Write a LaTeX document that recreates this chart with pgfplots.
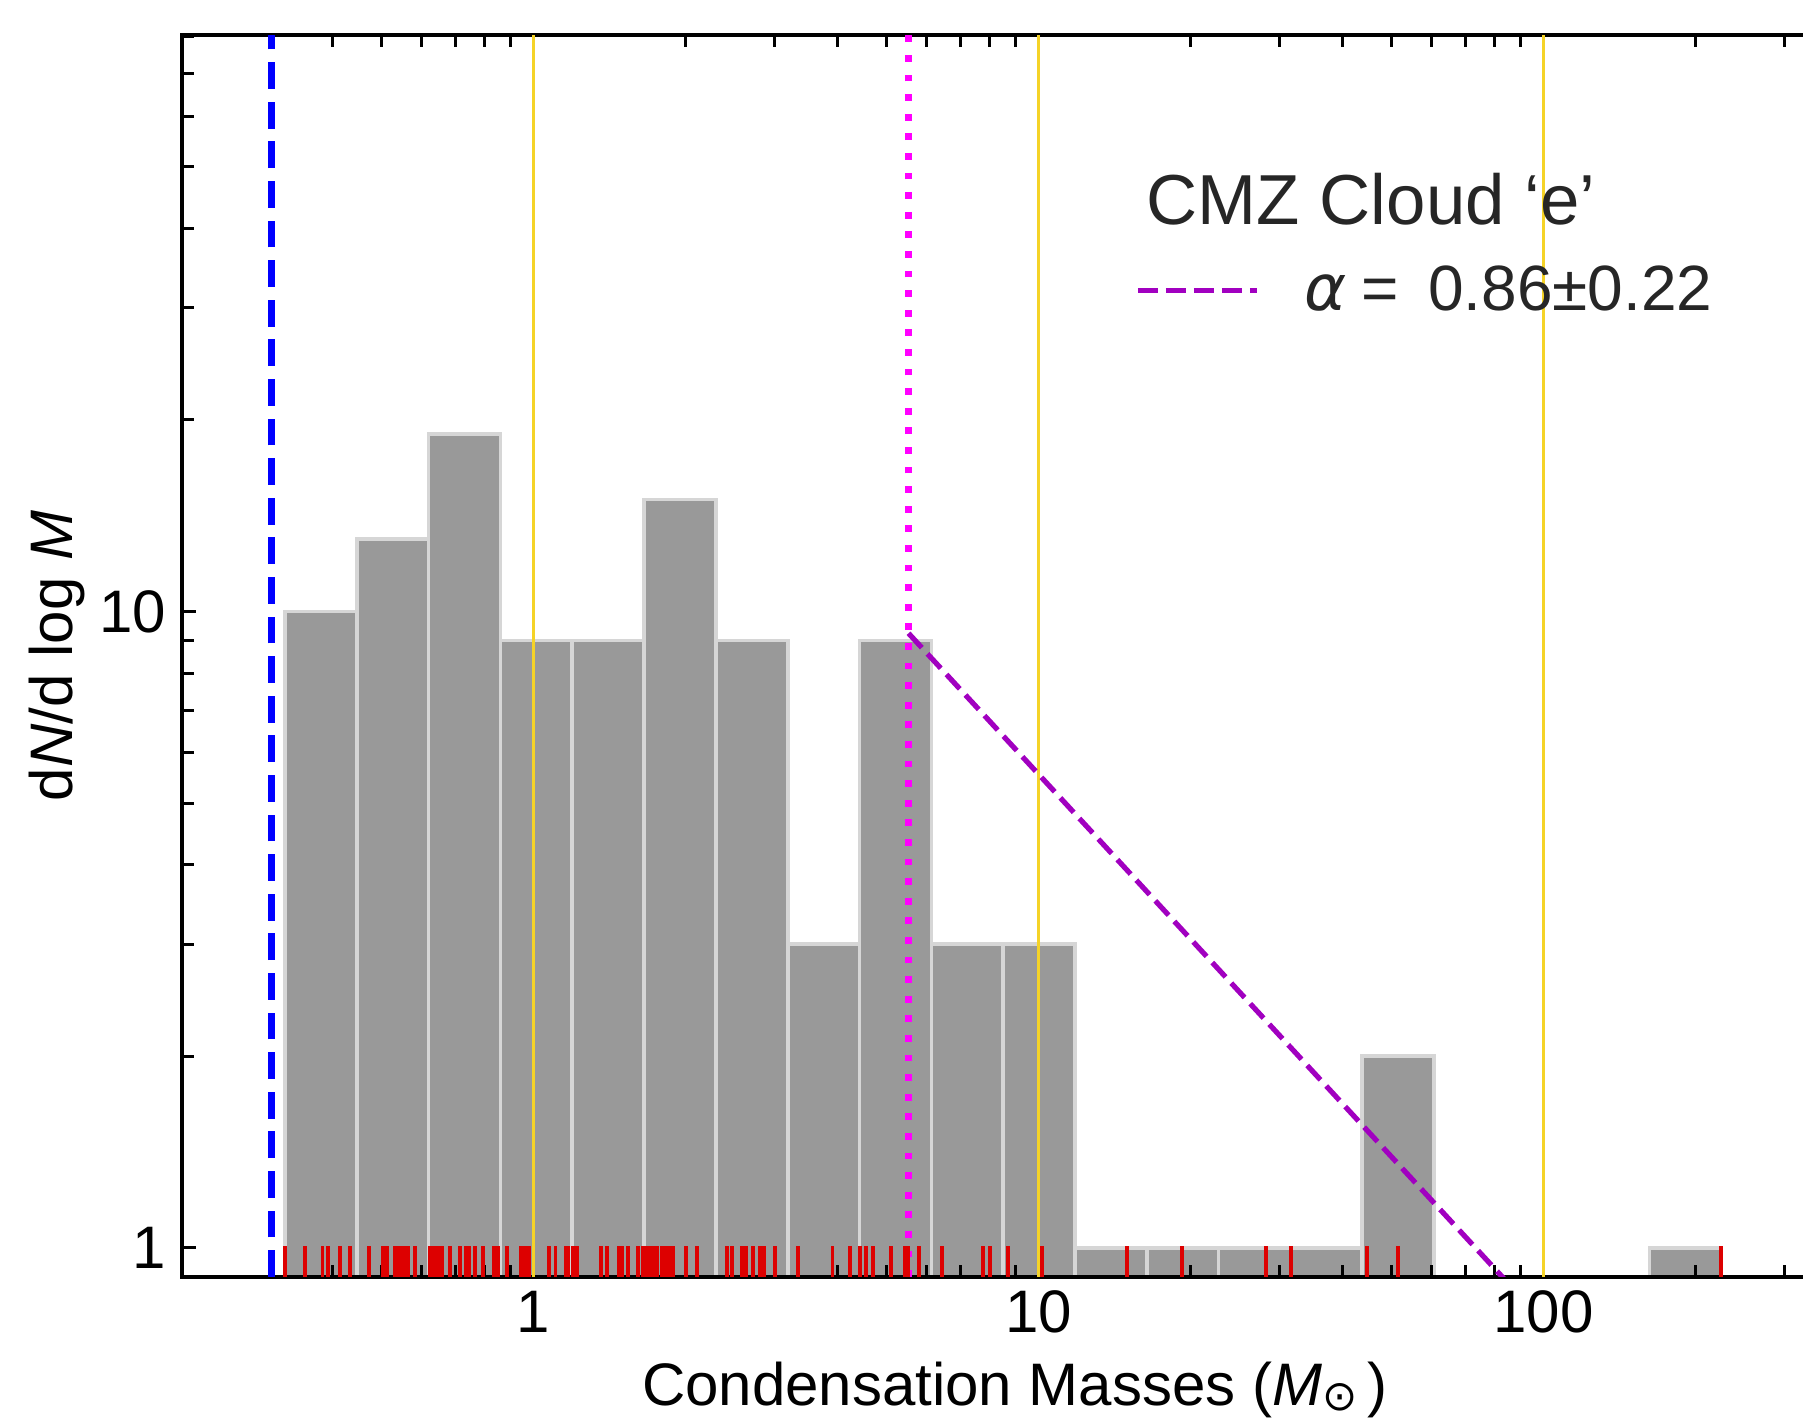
\documentclass[border=0pt]{standalone}
\usepackage{fontspec}
\setmainfont{Liberation Sans}
\newfontfamily\dejavu{DejaVu Sans}
\usepackage{pgfplots}
\pgfplotsset{compat=1.18}
\definecolor{barfill}{HTML}{999999}
\definecolor{baredge}{HTML}{D6D6D6}
\definecolor{rugred}{HTML}{DD0000}
\definecolor{goldline}{HTML}{F5D327}
\definecolor{fitpurple}{HTML}{A100C0}
\definecolor{magline}{HTML}{FF00FF}
\definecolor{txt}{HTML}{262626}
\begin{document}
\begin{tikzpicture}
\begin{axis}[
  set layers,
  scale only axis, width=416.4pt, height=310.5pt,
  xmode=log, ymode=log,
  xmin=0.2015, xmax=400, ymin=0.9, ymax=80.5,
  log origin y=infty,
  xtick={1,10,100}, xticklabels={1,10,100},
  minor xtick={0.3,0.4,0.5,0.6,0.7,0.8,0.9,2,3,4,5,6,7,8,9,20,30,40,50,60,70,80,90,200,300},
  ytick={1,10}, yticklabels={1,10},
  minor ytick={2,3,4,5,6,7,8,9,20,30,40,50,60,70,80},
  tick align=inside,
  major tick length=3.5pt, minor tick length=3pt,
  tick style={line width=0.75pt, black},
  axis line style={line width=0.8pt},
  tick label style={font=\fontsize{15}{18}\selectfont},
  xticklabel style={inner sep=3.25pt},
  yticklabel style={inner sep=3.75pt},
  label style={font=\fontsize{15}{18}\selectfont},
  xlabel={Condensation Masses (\textit{M}\raisebox{-1.25pt}{\fontsize{10.5}{12}\selectfont\dejavu ⊙}\,)},
  ylabel={d\textit{N}/d log \textit{M}},
  xlabel style={at={(axis description cs:0.5,-0.1031)}, anchor=base},
  ylabel style={at={(axis description cs:-0.0655,0.5)}, anchor=base},
  legend image code/.code={\draw[#1] (0pt,0pt) -- (29.75pt,0pt);},
  legend style={draw=none, fill=none, at={(rel axis cs:0.5719,0.7940)}, anchor=west,
    inner sep=0pt, font=\fontsize{16}{19}\selectfont, text=txt,
    nodes={inner sep=0pt},
    /tikz/every odd column/.append style={column sep=11.35pt}},
]
% histogram (counts per logarithmic bin)
\addplot[ybar interval, fill=barfill, draw=baredge, line width=0.9pt, on layer=axis background, forget plot]
  coordinates {(0.32235,10) (0.44719,13) (0.62040,19) (0.86069,9) (1.19404,9) (1.6565,15)
  (2.2981,9) (3.1882,3) (4.4230,9) (6.1361,3) (8.5125,3) (11.810,1) (16.384,1) (22.729,1)
  (31.534,1) (43.746,2) (60.691,2)};
\addplot[ybar interval, fill=barfill, draw=baredge, line width=0.9pt, on layer=axis background, forget plot]
  coordinates {(162.05,1) (224.81,1)};
% rug of individual condensation masses
\addplot[only marks, mark=|, mark size=3.8pt, color=rugred, mark options={line width=0.95pt}, forget plot]
  coordinates {
  (0.3224,0.952) (0.3527,0.952) (0.3530,0.952) (0.3822,0.952) (0.3825,0.952) (0.3922,0.952)
  (0.4130,0.952) (0.4135,0.952) (0.4330,0.952) (0.4335,0.952)
  (0.4729,0.952) (0.4735,0.952) (0.5033,0.952) (0.5040,0.952) (0.5133,0.952) (0.5324,0.952)
  (0.5330,0.952) (0.5409,0.952) (0.5497,0.952) (0.5585,0.952) (0.5661,0.952) (0.5833,0.952)
  (0.5840,0.952)
  (0.6245,0.952) (0.6250,0.952) (0.6359,0.952) (0.6365,0.952) (0.6476,0.952) (0.6480,0.952)
  (0.6595,0.952) (0.6600,0.952) (0.6841,0.952) (0.7160,0.952) (0.7165,0.952) (0.7342,0.952)
  (0.7459,0.952) (0.7465,0.952) (0.7667,0.952) (0.7961,0.952) (0.8359,0.952) (0.8365,0.952)
  (0.8513,0.952)
  (0.8871,0.952) (0.9455,0.952) (0.9460,0.952) (0.9629,0.952) (0.9806,0.952) (1.0742,0.952)
  (1.1065,0.952) (1.1581,0.952) (1.1714,0.952)
  (1.1984,0.952) (1.2205,0.952) (1.3616,0.952) (1.3974,0.952) (1.4780,0.952) (1.5017,0.952)
  (1.5378,0.952) (1.6095,0.952) (1.6451,0.952)
  (1.6716,0.952) (1.6720,0.952) (1.6946,0.952) (1.7257,0.952) (1.7260,0.952) (1.7575,0.952)
  (1.7580,0.952) (1.7981,0.952) (1.8311,0.952) (1.8315,0.952) (1.8564,0.952) (1.8905,0.952)
  (1.8910,0.952) (2.0059,0.952) (2.1091,0.952)
  (2.4182,0.952) (2.4740,0.952) (2.5893,0.952) (2.5900,0.952) (2.6370,0.952) (2.7225,0.952)
  (2.8108,0.952) (2.8625,0.952) (3.0056,0.952)
  (3.3423,0.952) (3.9116,0.952) (4.2307,0.952)
  (4.4341,0.952) (4.5530,0.952) (4.7048,0.952) (5.1141,0.952) (5.4313,0.952) (5.4320,0.952)
  (5.5187,0.952) (5.5200,0.952) (5.8101,0.952)
  (6.4439,0.952) (7.7577,0.952) (8.0311,0.952)
  (8.6941,0.952) (8.7000,0.952) (10.152,0.952)
  (14.956,0.952) (19.219,0.952) (28.223,0.952) (31.63,0.952) (44.79,0.952) (51.45,0.952)
  (224.8,0.952)};
% reference lines
\addplot[goldline, line width=0.85pt, forget plot] coordinates {(1,0.9) (1,80.5)};
\addplot[goldline, line width=0.85pt, forget plot] coordinates {(10,0.9) (10,80.5)};
\addplot[goldline, line width=0.85pt, forget plot] coordinates {(100,0.9) (100,80.5)};
\addplot[blue, line width=1.75pt, dash pattern=on 6.7pt off 3.2pt, forget plot] coordinates {(0.303,0.9) (0.303,80.5)};
\addplot[magline, line width=1.7pt, dash pattern=on 1.7pt off 3.2pt, forget plot] coordinates {(5.53,0.9) (5.53,80.5)};
% power-law fit
\addplot[fitpurple, line width=1.3pt, dash pattern=on 4.9pt off 2.1pt] coordinates {(5.53,9.24) (100,0.766)};
\addlegendentry{{\dejavu\itshape α}\hspace{3.6pt}=\hspace{7.35pt}0.86±0.22}
\node[anchor=base west, inner sep=0pt, font=\fontsize{17.7}{21}\selectfont, text=txt]
  at (rel axis cs:0.5788,0.8478) {CMZ Cloud ‘e’};
\end{axis}
\pgfresetboundingbox
\useasboundingbox (-45.5pt,-35.5pt) rectangle (405.25pt,319.25pt);
\end{tikzpicture}
\end{document}
